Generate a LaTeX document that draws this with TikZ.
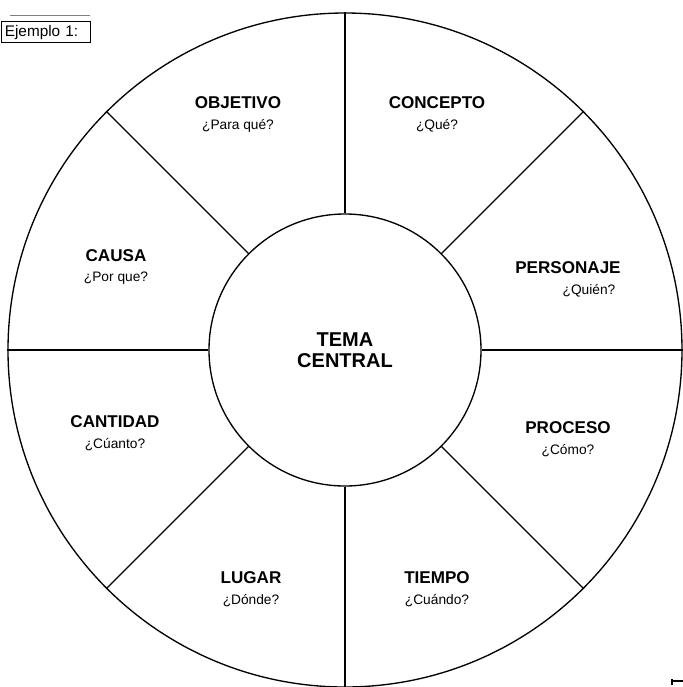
\documentclass[tikz,border=0pt]{standalone}
\usepackage{fontspec}
\setmainfont{Liberation Sans}
\usetikzlibrary{positioning}

\tikzset{
  wheel/.style={draw, circle, inner sep=0pt, line width=1pt},
  spoke/.style={line width=0.9pt},
  heading/.style={inner sep=0.75pt, font=\fontsize{12.8}{14}\selectfont\bfseries},
  question/.style={inner sep=0.75pt, font=\fontsize{10.3}{12}\selectfont}
}

\begin{document}
\begin{tikzpicture}[x=0.75pt,y=0.75pt,yscale=-1,xscale=1]
\useasboundingbox (0,0) rectangle (683,687);

%Shape: Circles
\node [wheel, minimum size=505.5pt] (rim) at (345,350) {};
\node [wheel, minimum size=204pt, align=center, font=\fontsize{15}{16}\selectfont\bfseries] (hub) at (345,350) {TEMA\\CENTRAL};

%Straight Lines
\draw [spoke] (hub.90) -- (rim.90) ;
\draw [spoke] (hub.45) -- (rim.45) ;
\draw [spoke] (hub.0) -- (rim.0) ;
\draw [spoke] (hub.-45) -- (rim.-45) ;
\draw [spoke] (hub.-90) -- (rim.-90) ;
\draw [spoke] (hub.-135) -- (rim.-135) ;
\draw [spoke] (hub.180) -- (rim.180) ;
\draw [spoke] (hub.135) -- (rim.135) ;

% Text Node
\node [heading] (objetivo) at (238,103) {OBJETIVO};
\node [question, below=5.5pt of objetivo] (objetivoq) {¿Para qué?};
% Text Node
\node [heading] (concepto) at (437,103) {CONCEPTO};
\node [question, below=5.5pt of concepto] (conceptoq) {¿Qué?};
% Text Node
\node [heading] (causa) at (116,256) {CAUSA};
\node [question, below=5.5pt of causa] (causaq) {¿Por que?};
% Text Node
\node [heading] (personaje) at (568,268) {PERSONAJE};
\node [question, below=5.5pt of personaje.south east, anchor=north east, xshift=-4pt] (personajeq) {¿Quién?};
% Text Node
\node [heading] (cantidad) at (115,422) {CANTIDAD};
\node [question, below=5.5pt of cantidad] (cantidadq) {¿Cúanto?};
% Text Node
\node [heading] (proceso) at (568,428) {PROCESO};
\node [question, below=5.5pt of proceso] (procesoq) {¿Cómo?};
% Text Node
\node [heading] (lugar) at (251,578) {LUGAR};
\node [question, below=5.5pt of lugar] (lugarq) {¿Dónde?};
% Text Node
\node [heading] (tiempo) at (437,578) {TIEMPO};
\node [question, below=5.5pt of tiempo] (tiempoq) {¿Cuándo?};

% Label box
\node [draw, line width=0.8pt, inner sep=2pt, anchor=north west, minimum width=67pt, minimum height=16pt, text width=62pt, font=\fontsize{11.5}{13}\selectfont] (example) at (1,21) {Ejemplo 1:};
\draw [line width=0.4pt, gray] (10,15) -- (90,15) ;

% corner mark
\draw [line width=0.8pt] (672,681) -- (683,681) ;
\draw [line width=1.2pt] (672,679) -- (672,685) ;
\end{tikzpicture}
\end{document}
